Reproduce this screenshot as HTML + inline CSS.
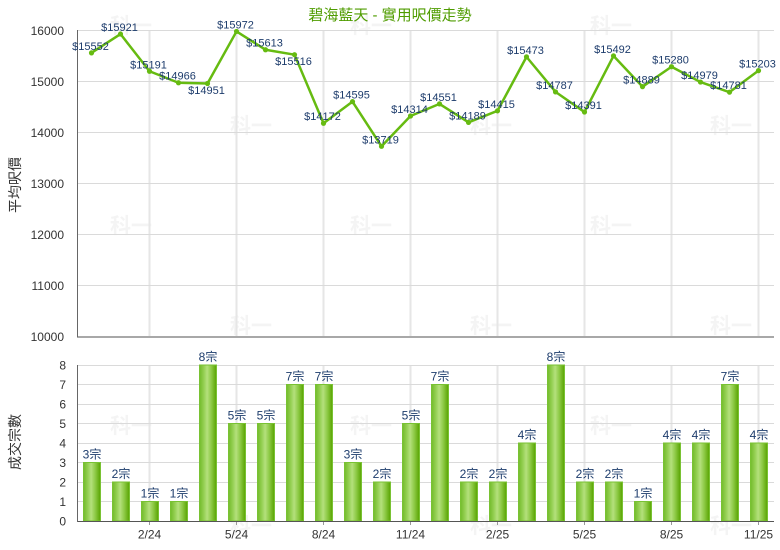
<!DOCTYPE html>
<html><head><meta charset="utf-8"><style>
html,body{margin:0;padding:0;background:#fff;}
svg{display:block;}
text{font-family:"Liberation Sans","Noto Sans CJK TC","Noto Sans CJK SC",sans-serif;}
</style></head><body>
<svg width="780" height="550" viewBox="0 0 780 550" xmlns="http://www.w3.org/2000/svg">
<defs>
<linearGradient id="bg" x1="0" y1="0" x2="1" y2="0">
<stop offset="0" stop-color="#72bb2a"/>
<stop offset="0.25" stop-color="#94cf52"/>
<stop offset="0.45" stop-color="#b4e07c"/>
<stop offset="0.7" stop-color="#8cc944"/>
<stop offset="1" stop-color="#58a300"/>
</linearGradient>
</defs>
<rect width="780" height="550" fill="#fff"/>
<!-- watermarks -->
<g font-size="21" font-weight="bold" fill="#f4f4f4">
<text x="110" y="33" style="font-family:'Noto Sans CJK SC',sans-serif">科一</text>
<text x="350" y="33" style="font-family:'Noto Sans CJK SC',sans-serif">科一</text>
<text x="590" y="33" style="font-family:'Noto Sans CJK SC',sans-serif">科一</text>
<text x="230" y="133" style="font-family:'Noto Sans CJK SC',sans-serif">科一</text>
<text x="470" y="133" style="font-family:'Noto Sans CJK SC',sans-serif">科一</text>
<text x="710" y="133" style="font-family:'Noto Sans CJK SC',sans-serif">科一</text>
<text x="110" y="233" style="font-family:'Noto Sans CJK SC',sans-serif">科一</text>
<text x="350" y="233" style="font-family:'Noto Sans CJK SC',sans-serif">科一</text>
<text x="590" y="233" style="font-family:'Noto Sans CJK SC',sans-serif">科一</text>
<text x="230" y="333" style="font-family:'Noto Sans CJK SC',sans-serif">科一</text>
<text x="470" y="333" style="font-family:'Noto Sans CJK SC',sans-serif">科一</text>
<text x="710" y="333" style="font-family:'Noto Sans CJK SC',sans-serif">科一</text>
<text x="110" y="433" style="font-family:'Noto Sans CJK SC',sans-serif">科一</text>
<text x="350" y="433" style="font-family:'Noto Sans CJK SC',sans-serif">科一</text>
<text x="590" y="433" style="font-family:'Noto Sans CJK SC',sans-serif">科一</text>
<text x="230" y="533" style="font-family:'Noto Sans CJK SC',sans-serif">科一</text>
<text x="470" y="533" style="font-family:'Noto Sans CJK SC',sans-serif">科一</text>
<text x="710" y="533" style="font-family:'Noto Sans CJK SC',sans-serif">科一</text>
</g>

<!-- title -->
<text x="390" y="20" text-anchor="middle" font-size="15" fill="#4f9c00">碧海藍天 - 實用呎價走勢</text>

<!-- TOP CHART grid -->
<g stroke="#e6e6e6" stroke-width="2">
<line x1="149.5" y1="30" x2="149.5" y2="336"/>
<line x1="236.5" y1="30" x2="236.5" y2="336"/>
<line x1="323.5" y1="30" x2="323.5" y2="336"/>
<line x1="410.5" y1="30" x2="410.5" y2="336"/>
<line x1="497.5" y1="30" x2="497.5" y2="336"/>
<line x1="584.5" y1="30" x2="584.5" y2="336"/>
<line x1="671.5" y1="30" x2="671.5" y2="336"/>
<line x1="758.5" y1="30" x2="758.5" y2="336"/>
</g>
<g stroke="#dadada" stroke-width="1">
<line x1="77" y1="30.5" x2="774" y2="30.5"/>
<line x1="77" y1="81.5" x2="774" y2="81.5"/>
<line x1="77" y1="132.5" x2="774" y2="132.5"/>
<line x1="77" y1="183.5" x2="774" y2="183.5"/>
<line x1="77" y1="234.5" x2="774" y2="234.5"/>
<line x1="77" y1="285.5" x2="774" y2="285.5"/>
</g>
<line x1="77" y1="337" x2="774" y2="337" stroke="#a8a8a8" stroke-width="2"/>
<line x1="77.5" y1="30" x2="77.5" y2="337" stroke="#666" stroke-width="1"/>

<g font-size="12" fill="#333" text-anchor="end">
<text x="64" y="35">16000</text>
<text x="64" y="86">15000</text>
<text x="64" y="137">14000</text>
<text x="64" y="188">13000</text>
<text x="64" y="239">12000</text>
<text x="64" y="290">11000</text>
<text x="64" y="341">10000</text>
</g>
<text transform="translate(20,185) rotate(-90)" text-anchor="middle" font-size="14" fill="#333">平均呎價</text>

<!-- line -->
<polyline fill="none" stroke="#66bb11" stroke-width="2.5" stroke-linejoin="round" points="91.5,52.85 120.5,34.03 149.5,71.26 178.5,82.73 207.5,83.5 236.5,31.43 265.5,49.74 294.5,54.68 323.5,123.23 352.5,101.66 381.5,146.33 410.5,115.99 439.5,103.9 468.5,122.36 497.5,110.84 526.5,56.88 555.5,91.86 584.5,112.06 613.5,55.91 642.5,86.66 671.5,66.72 700.5,82.07 729.5,92.17 758.5,70.65"/>
<g fill="#66bb11">
<circle cx="91.5" cy="52.85" r="2.6"/><circle cx="120.5" cy="34.03" r="2.6"/><circle cx="149.5" cy="71.26" r="2.6"/><circle cx="178.5" cy="82.73" r="2.6"/><circle cx="207.5" cy="83.5" r="2.6"/><circle cx="236.5" cy="31.43" r="2.6"/><circle cx="265.5" cy="49.74" r="2.6"/><circle cx="294.5" cy="54.68" r="2.6"/><circle cx="323.5" cy="123.23" r="2.6"/><circle cx="352.5" cy="101.66" r="2.6"/><circle cx="381.5" cy="146.33" r="2.6"/><circle cx="410.5" cy="115.99" r="2.6"/><circle cx="439.5" cy="103.9" r="2.6"/><circle cx="468.5" cy="122.36" r="2.6"/><circle cx="497.5" cy="110.84" r="2.6"/><circle cx="526.5" cy="56.88" r="2.6"/><circle cx="555.5" cy="91.86" r="2.6"/><circle cx="584.5" cy="112.06" r="2.6"/><circle cx="613.5" cy="55.91" r="2.6"/><circle cx="642.5" cy="86.66" r="2.6"/><circle cx="671.5" cy="66.72" r="2.6"/><circle cx="700.5" cy="82.07" r="2.6"/><circle cx="729.5" cy="92.17" r="2.6"/><circle cx="758.5" cy="70.65" r="2.6"/>
</g>
<g font-size="11" fill="#1d3c6c" text-anchor="middle">
<text x="90.5" y="49.8">$15552</text>
<text x="119.5" y="31">$15921</text>
<text x="148.5" y="68.3">$15191</text>
<text x="177.5" y="79.7">$14966</text>
<text x="206.5" y="94">$14951</text>
<text x="235.5" y="28.4">$15972</text>
<text x="264.5" y="46.7">$15613</text>
<text x="293.5" y="65.2">$15516</text>
<text x="322.5" y="120.2">$14172</text>
<text x="351.5" y="98.7">$14595</text>
<text x="380.5" y="143.3">$13719</text>
<text x="409.5" y="113">$14314</text>
<text x="438.5" y="100.9">$14551</text>
<text x="467.5" y="119.4">$14189</text>
<text x="496.5" y="107.8">$14415</text>
<text x="525.5" y="53.9">$15473</text>
<text x="554.5" y="88.9">$14787</text>
<text x="583.5" y="109.1">$14391</text>
<text x="612.5" y="52.9">$15492</text>
<text x="641.5" y="83.7">$14889</text>
<text x="670.5" y="63.7">$15280</text>
<text x="699.5" y="79.1">$14979</text>
<text x="728.5" y="89.2">$14781</text>
<text x="757.5" y="67.7">$15203</text>
</g>

<!-- BOTTOM CHART grid -->
<g stroke="#e6e6e6" stroke-width="2">
<line x1="149.5" y1="365" x2="149.5" y2="521"/>
<line x1="236.5" y1="365" x2="236.5" y2="521"/>
<line x1="323.5" y1="365" x2="323.5" y2="521"/>
<line x1="410.5" y1="365" x2="410.5" y2="521"/>
<line x1="497.5" y1="365" x2="497.5" y2="521"/>
<line x1="584.5" y1="365" x2="584.5" y2="521"/>
<line x1="671.5" y1="365" x2="671.5" y2="521"/>
<line x1="758.5" y1="365" x2="758.5" y2="521"/>
</g>
<g stroke="#dadada" stroke-width="1">
<line x1="77" y1="365.5" x2="774" y2="365.5"/>
<line x1="77" y1="384.5" x2="774" y2="384.5"/>
<line x1="77" y1="404.5" x2="774" y2="404.5"/>
<line x1="77" y1="423.5" x2="774" y2="423.5"/>
<line x1="77" y1="443.5" x2="774" y2="443.5"/>
<line x1="77" y1="462.5" x2="774" y2="462.5"/>
<line x1="77" y1="482.5" x2="774" y2="482.5"/>
<line x1="77" y1="501.5" x2="774" y2="501.5"/>
</g>

<g font-size="12" fill="#333" text-anchor="end">
<text x="66" y="369.5">8</text>
<text x="66" y="389">7</text>
<text x="66" y="408.5">6</text>
<text x="66" y="428">5</text>
<text x="66" y="447.5">4</text>
<text x="66" y="467">3</text>
<text x="66" y="486.5">2</text>
<text x="66" y="506">1</text>
<text x="66" y="525.5">0</text>
</g>
<text transform="translate(20,442) rotate(-90)" text-anchor="middle" font-size="14" fill="#333">成交宗數</text>

<!-- bars -->
<g fill="url(#bg)" stroke="#79c233" stroke-width="1">
<rect x="83.5" y="462.5" width="17" height="58.5"/>
<rect x="112.5" y="482" width="17" height="39"/>
<rect x="141.5" y="501.5" width="17" height="19.5"/>
<rect x="170.5" y="501.5" width="17" height="19.5"/>
<rect x="199.5" y="365" width="17" height="156"/>
<rect x="228.5" y="423.5" width="17" height="97.5"/>
<rect x="257.5" y="423.5" width="17" height="97.5"/>
<rect x="286.5" y="384.5" width="17" height="136.5"/>
<rect x="315.5" y="384.5" width="17" height="136.5"/>
<rect x="344.5" y="462.5" width="17" height="58.5"/>
<rect x="373.5" y="482" width="17" height="39"/>
<rect x="402.5" y="423.5" width="17" height="97.5"/>
<rect x="431.5" y="384.5" width="17" height="136.5"/>
<rect x="460.5" y="482" width="17" height="39"/>
<rect x="489.5" y="482" width="17" height="39"/>
<rect x="518.5" y="443" width="17" height="78"/>
<rect x="547.5" y="365" width="17" height="156"/>
<rect x="576.5" y="482" width="17" height="39"/>
<rect x="605.5" y="482" width="17" height="39"/>
<rect x="634.5" y="501.5" width="17" height="19.5"/>
<rect x="663.5" y="443" width="17" height="78"/>
<rect x="692.5" y="443" width="17" height="78"/>
<rect x="721.5" y="384.5" width="17" height="136.5"/>
<rect x="750.5" y="443" width="17" height="78"/>
</g>
<g font-size="12" fill="#1d3c6c" text-anchor="middle">
<text x="92" y="458.5">3宗</text>
<text x="121" y="478">2宗</text>
<text x="150" y="497.5">1宗</text>
<text x="179" y="497.5">1宗</text>
<text x="208" y="361">8宗</text>
<text x="237" y="419.5">5宗</text>
<text x="266" y="419.5">5宗</text>
<text x="295" y="380.5">7宗</text>
<text x="324" y="380.5">7宗</text>
<text x="353" y="458.5">3宗</text>
<text x="382" y="478">2宗</text>
<text x="411" y="419.5">5宗</text>
<text x="440" y="380.5">7宗</text>
<text x="469" y="478">2宗</text>
<text x="498" y="478">2宗</text>
<text x="527" y="439">4宗</text>
<text x="556" y="361">8宗</text>
<text x="585" y="478">2宗</text>
<text x="614" y="478">2宗</text>
<text x="643" y="497.5">1宗</text>
<text x="672" y="439">4宗</text>
<text x="701" y="439">4宗</text>
<text x="730" y="380.5">7宗</text>
<text x="759" y="439">4宗</text>
</g>

<line x1="77" y1="521.5" x2="774" y2="521.5" stroke="#555" stroke-width="1"/>
<line x1="77.5" y1="365" x2="77.5" y2="522" stroke="#666" stroke-width="1"/>
<g stroke="#999" stroke-width="1">
<line x1="149.5" y1="522" x2="149.5" y2="525"/>
<line x1="236.5" y1="522" x2="236.5" y2="525"/>
<line x1="323.5" y1="522" x2="323.5" y2="525"/>
<line x1="410.5" y1="522" x2="410.5" y2="525"/>
<line x1="497.5" y1="522" x2="497.5" y2="525"/>
<line x1="584.5" y1="522" x2="584.5" y2="525"/>
<line x1="671.5" y1="522" x2="671.5" y2="525"/>
<line x1="758.5" y1="522" x2="758.5" y2="525"/>
</g>
<g font-size="12" fill="#333" text-anchor="middle">
<text x="149.5" y="538.5">2/24</text>
<text x="236.5" y="538.5">5/24</text>
<text x="323.5" y="538.5">8/24</text>
<text x="410.5" y="538.5">11/24</text>
<text x="497.5" y="538.5">2/25</text>
<text x="584.5" y="538.5">5/25</text>
<text x="671.5" y="538.5">8/25</text>
<text x="758.5" y="538.5">11/25</text>
</g>
</svg>
</body></html>
